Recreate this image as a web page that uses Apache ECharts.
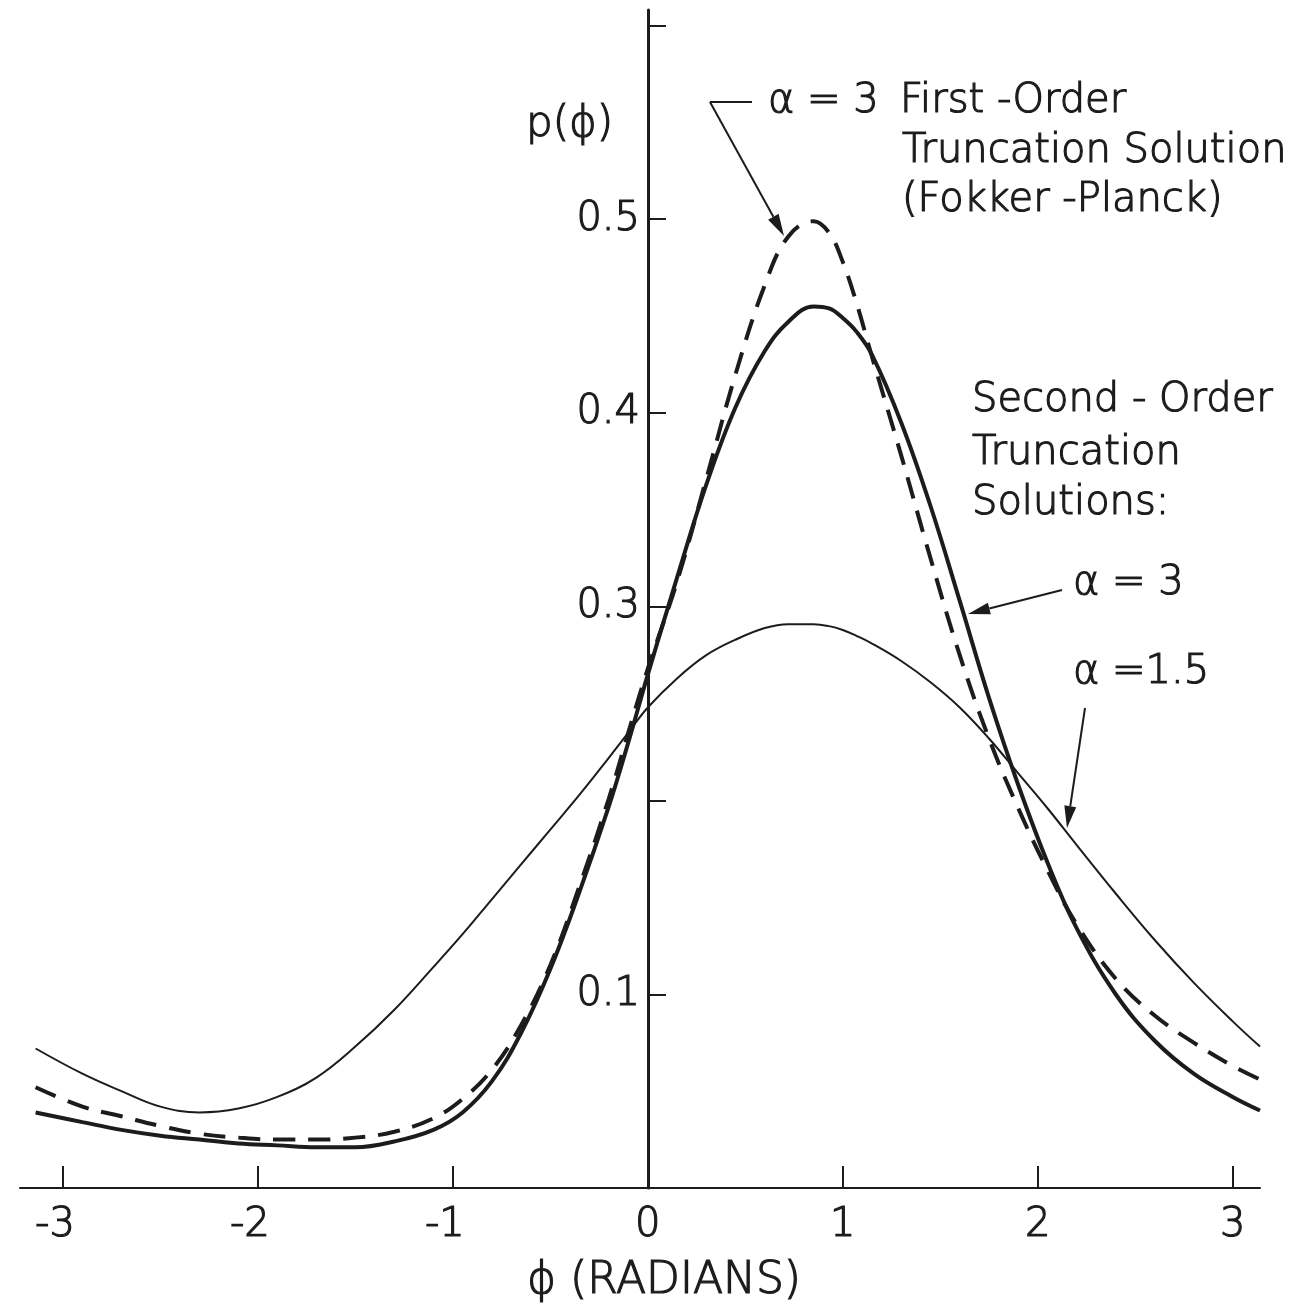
<!DOCTYPE html>
<html>
<head>
<meta charset="utf-8">
<script src="https://cdn.jsdelivr.net/npm/echarts@6.0.0/dist/echarts.min.js"></script>
<style>
  html, body { margin: 0; padding: 0; background: #fff; }
  #chart { width: 1301px; height: 1311px; }
</style>
</head>
<body>
<div id="chart"></div>
<script>
  // phi sample points (radians), shared by the three curves
  const phi = [-3.14, -2.9, -2.7, -2.5, -2.3, -2.1, -1.9, -1.7, -1.5, -1.3, -1.1, -0.95, -0.8, -0.65, -0.5, -0.35, -0.2, -0.1, 0,
    0.15, 0.3, 0.45, 0.6, 0.72, 0.85, 0.93, 1.0, 1.07, 1.15, 1.3, 1.45, 1.6, 1.75, 1.9, 2.05, 2.2, 2.4, 2.6, 2.8, 3.0, 3.14];

  // second-order truncation, alpha = 1.5 (thin line)
  const secondA15 = [0.072, 0.059, 0.050, 0.042, 0.039, 0.041, 0.047, 0.057, 0.073, 0.092, 0.114, 0.131, 0.149, 0.167, 0.185, 0.203, 0.222, 0.235, 0.248,
    0.263, 0.275, 0.283, 0.289, 0.291, 0.291, 0.290, 0.288, 0.285, 0.281, 0.272, 0.261, 0.248, 0.232, 0.214, 0.196, 0.177, 0.152, 0.128, 0.106, 0.086, 0.073];

  // second-order truncation, alpha = 3 (thick line)
  const secondA3 = [0.039, 0.034, 0.030, 0.027, 0.025, 0.023, 0.022, 0.021, 0.021, 0.024, 0.030, 0.039, 0.055, 0.080, 0.113, 0.153, 0.197, 0.230, 0.265,
    0.315, 0.363, 0.403, 0.432, 0.447, 0.455, 0.454, 0.449, 0.442, 0.430, 0.395, 0.352, 0.303, 0.253, 0.208, 0.168, 0.134, 0.100, 0.076, 0.059, 0.047, 0.040];

  // first-order truncation (Fokker-Planck), alpha = 3 (dashed)
  const firstA3 = [0.052, 0.042, 0.037, 0.032, 0.028, 0.026, 0.025, 0.025, 0.026, 0.029, 0.036, 0.046, 0.061, 0.084, 0.115, 0.156, 0.201, 0.235, 0.268,
    0.313, 0.366, 0.420, 0.466, 0.491, 0.499, 0.493, 0.478, 0.457, 0.429, 0.378, 0.325, 0.275, 0.232, 0.196, 0.164, 0.136, 0.108, 0.089, 0.075, 0.063, 0.056];

  const xTicks = [-3, -2, -1, 0, 1, 2, 3];
  const yTicks = [0.1, 0.2, 0.3, 0.4, 0.5, 0.6];
  const yLabels = [0.1, 0.3, 0.4, 0.5];

  const ink = '#1c1c1c';
  const font = '"DejaVu Sans", "Noto Sans", sans-serif';
  const weight = 300;
  // the lettering on the original is a bit heavier than the light face
  const thicken = { textBorderColor: ink, textBorderWidth: 1.2 };

  const pairs = (ys) => phi.map((x, i) => [x, ys[i]]);

  // line ending in a small filled arrow head at (tx, ty)
  const arrow = (fx, fy, tx, ty) => {
    const a = Math.atan2(ty - fy, tx - fx);
    const len = 22, half = 6;
    const bx = tx - len * Math.cos(a), by = ty - len * Math.sin(a);
    const nx = -Math.sin(a) * half, ny = Math.cos(a) * half;
    return [
      { type: 'line', shape: { x1: fx, y1: fy, x2: bx, y2: by }, style: { stroke: ink, lineWidth: 2 } },
      { type: 'polygon', shape: { points: [[tx, ty], [bx + nx, by + ny], [bx - nx, by - ny]] }, style: { fill: ink } }
    ];
  };

  const txt = (x, y, text, size, align) => ({
    type: 'text', x: x, y: y,
    style: {
      text: text, fontSize: size || 40, fontFamily: font, fontWeight: weight,
      fill: ink, align: align || 'left', verticalAlign: 'middle',
      stroke: ink, lineWidth: 1.2
    }
  });

  const labelStyle = Object.assign({ color: ink, fontSize: 40, fontFamily: font, fontWeight: weight }, thicken);

  const option = {
    backgroundColor: '#fff',
    animation: false,
    grid: { left: 20, right: 41, top: 10, bottom: 123, outerBoundsMode: 'none' },
    xAxis: {
      type: 'value',
      min: -3.22,
      max: 3.14,
      axisLine: { onZero: false, lineStyle: { color: ink, width: 2 } },
      axisTick: { inside: true, length: 22, customValues: xTicks, lineStyle: { color: ink, width: 2 } },
      axisLabel: Object.assign({
        customValues: xTicks,
        margin: 18,
        // keep the digit centred on its tick, the minus sign hangs to the left
        formatter: (v) => v < 0 ? '{n|-' + Math.abs(v) + '}' : String(v),
        rich: { n: Object.assign({ padding: [0, 16, 0, 0] }, labelStyle) }
      }, labelStyle),
      splitLine: { show: false }
    },
    yAxis: {
      type: 'value',
      min: 0,
      max: 0.608,
      position: 'left',
      offset: -628,
      axisLine: { onZero: false, lineStyle: { color: ink, width: 3 } },
      axisTick: { inside: true, length: 18, customValues: yTicks, lineStyle: { color: ink, width: 2 } },
      axisLabel: Object.assign({
        customValues: yLabels,
        margin: 8,
        formatter: (v) => v.toFixed(1)
      }, labelStyle),
      splitLine: { show: false }
    },
    series: [
      {
        name: 'Second-order, α = 1.5',
        type: 'line',
        smooth: 0.4,
        showSymbol: false,
        data: pairs(secondA15),
        lineStyle: { color: ink, width: 2 }
      },
      {
        name: 'Second-order, α = 3',
        type: 'line',
        smooth: 0.4,
        showSymbol: false,
        data: pairs(secondA3),
        lineStyle: { color: ink, width: 4 }
      },
      {
        name: 'First-order (Fokker-Planck), α = 3',
        type: 'line',
        smooth: 0.4,
        showSymbol: false,
        data: pairs(firstA3),
        lineStyle: { color: ink, width: 4, type: [22, 13] }
      }
    ],
    graphic: [
      txt(526, 125, 'p(ϕ)', 42),
      txt(664, 1282, 'ϕ (RADIANS)', 44, 'center'),
      txt(768, 102, 'α = 3'),
      txt(900, 102, 'First -Order'),
      txt(902, 152, 'Truncation Solution'),
      txt(902, 201, '(Fokker -Planck)'),
      txt(972, 401, 'Second - Order'),
      txt(972, 454, 'Truncation'),
      txt(972, 504, 'Solutions:'),
      txt(1073, 584, 'α = 3'),
      txt(1073, 673, 'α =1.5'),
      { type: 'line', shape: { x1: 752, y1: 102, x2: 710, y2: 102 }, style: { stroke: ink, lineWidth: 2 } },
      ...arrow(710, 102, 784, 236),
      ...arrow(1062, 590, 968, 614),
      ...arrow(1085, 708, 1067, 828)
    ]
  };

  const myChart = echarts.init(document.getElementById('chart'));
  myChart.setOption(option);
</script>
</body>
</html>
